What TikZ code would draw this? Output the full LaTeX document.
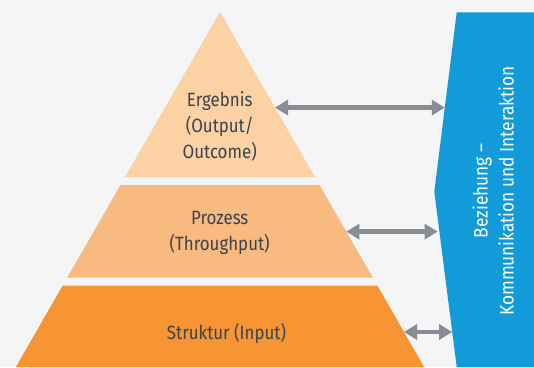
\documentclass[tikz,border=0pt]{standalone}
\usepackage{fontspec}
\setmainfont{Fira Sans}[FakeStretch=0.88]
\usetikzlibrary{arrows.meta}
\definecolor{bg}{HTML}{F4F5F4}
\definecolor{band1}{HTML}{FCD1A4}
\definecolor{band2}{HTML}{F9BA7F}
\definecolor{band3}{HTML}{F79433}
\definecolor{blueband}{HTML}{129BD8}
\definecolor{arrowgray}{HTML}{888C95}
\definecolor{txt}{HTML}{3A444E}
\tikzset{
  x=1pt, y=1pt,
  label text/.style={text=txt, font=\fontsize{19.2}{26}\selectfont, align=center, inner sep=0pt},
  side text/.style={text=white, font=\fontsize{19.6}{26}\selectfont, align=center, inner sep=0pt, rotate=90},
  link/.style={draw=arrowgray, line width=4.5pt, {Triangle[length=13pt,width=15pt]}-{Triangle[length=13pt,width=15pt]}},
}
\begin{document}
\begin{tikzpicture}
\fill[bg] (0,0) rectangle (534,367);
\useasboundingbox (0,0) rectangle (534,367);
% pyramid bands
\fill[band1] (220,355) -- (314.9,190) -- (125.1,190) -- cycle;
\fill[band2] (120.5,182) -- (319.5,182) -- (372.7,89.5) -- (67.3,89.5) -- cycle;
\fill[band3] (62.7,81.5) -- (377.3,81.5) -- (424.1,0) -- (15.9,0) -- cycle;
% blue side panel
\fill[blueband] (456.7,354.7) -- (534,354.7) -- (534,0) -- (456.7,0) -- (434.3,175.3) -- cycle;
% texts
\node[label text] (ergebnis) at (219.7,240.5) {Ergebnis\\(Output/\\Outcome)};
\node[label text] (prozess) at (219.7,134) {Prozess\\(Throughput)};
\node[label text] (struktur) at (226.5,33.5) {Struktur (Input)};
\node[side text] (bez) at (493,176) {Beziehung –\\Kommunikation und Interaktion};
% arrow endpoints
\coordinate (e1) at (275,259.4);
\coordinate (f1) at (444.8,259.4);
\coordinate (e2) at (346.3,135.4);
\coordinate (f2) at (437.6,135.4);
\coordinate (e3) at (404,35);
\coordinate (f3) at (452.2,35);
\draw[link] (e1) -- (f1);
\draw[link] (e2) -- (f2);
\draw[link] (e3) -- (f3);
\end{tikzpicture}
\end{document}
